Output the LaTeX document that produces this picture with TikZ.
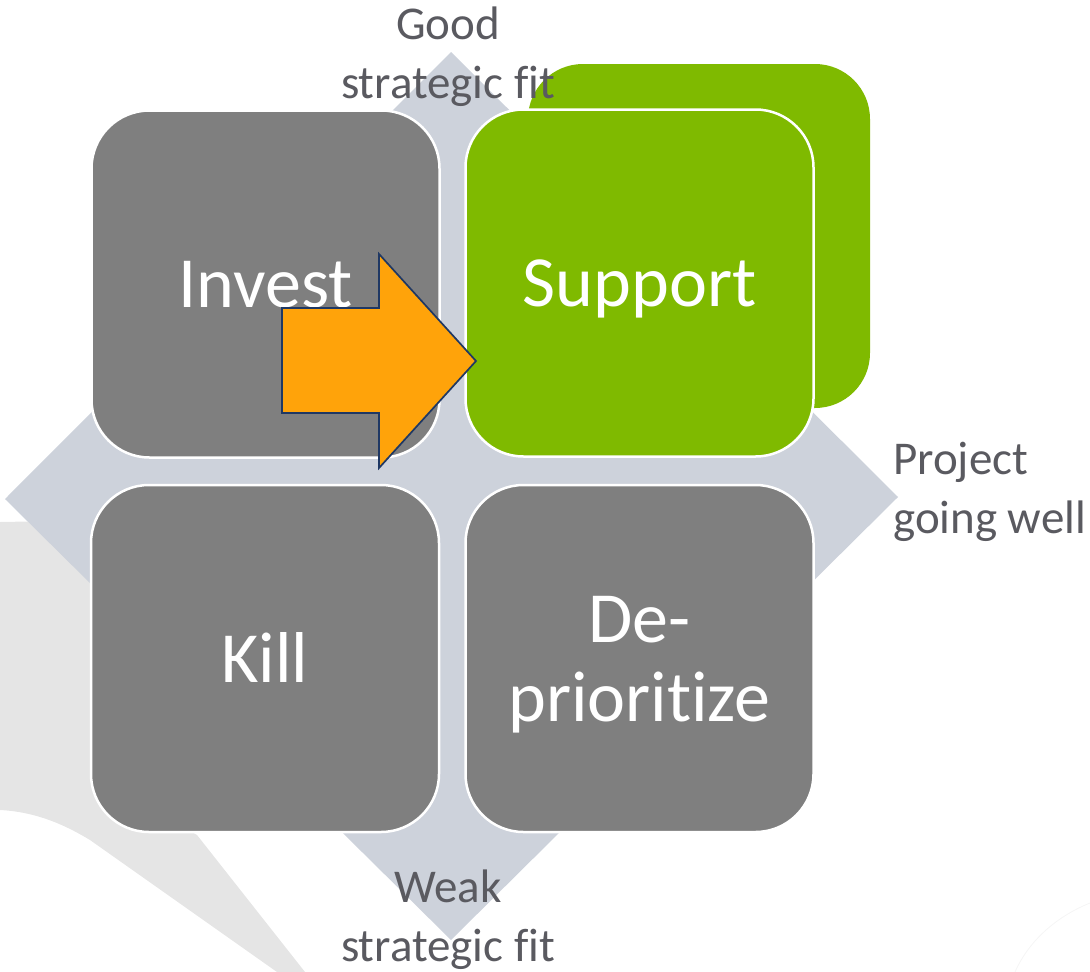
\documentclass[tikz,border=0pt]{standalone}
\usepackage{fontspec}
\setmainfont[Ligatures={NoCommon}]{Carlito}
\definecolor{diamondc}{HTML}{CDD2DB}
\definecolor{boxgray}{HTML}{7F7F7F}
\definecolor{leaf}{HTML}{7FBA00}
\definecolor{orangec}{HTML}{FFA30A}
\definecolor{navyc}{HTML}{1F3864}
\definecolor{labelc}{HTML}{5A5A60}
\definecolor{wmark}{HTML}{E5E5E5}
\begin{document}
\begin{tikzpicture}[x=1pt,y=-1pt,
  quad/.style={rounded corners=58pt, draw=white, line width=2.5pt, inner sep=0pt,
    minimum width=348pt, minimum height=347pt, text=white, align=center,
    font=\fontsize{72}{79}\selectfont},
  oneline/.style={text height=47pt, text depth=0pt},
  axislabel/.style={text=labelc, inner sep=0pt, font=\fontsize{47}{59}\selectfont}]
\useasboundingbox (0,0) rectangle (1090,972);
% faint background shapes
\fill[wmark] (0,522) -- (120,520) -- (120,790) -- (197,835) -- (305,972) -- (277,972)
  -- (90,840) .. controls (70,828) and (40,812) .. (0,810) -- cycle;
\draw[white!96!black, line width=0.8pt] (1015,972) .. controls (1030,938) and (1060,915) .. (1090,903);
% diamond
\fill[diamondc] (451,52) -- (898,497) -- (451,940) -- (5,499) -- cycle;
% quadrants
\node[quad, fill=leaf, draw=none, minimum width=342pt, minimum height=344pt, rounded corners=55pt] (back) at (699,236) {};
\node[quad, oneline, fill=boxgray] (invest) at (265.5,284) {Invest};
\node[quad, oneline, fill=boxgray] (kill) at (265,658.5) {Kill};
\node[quad, fill=boxgray] (depri) at (639.5,658.5) {};
\node[white, align=center, inner sep=0pt, font=\fontsize{72}{79}\selectfont] (depritext) at (639.5,665) {De-\\prioritize};
\node[quad, oneline, fill=leaf] (support) at (639.5,283) {Support};
% arrow
\draw[fill=orangec, draw=navyc, line width=1.7pt, line join=miter]
  (282,308) -- (379,308) -- (379,254) -- (476,361) -- (379,468) -- (379,413) -- (282,413) -- cycle;
% axis labels
\node[axislabel, align=center] (good) at (448,57) {Good\\strategic fit};
\node[axislabel, align=left, anchor=west] (proj) at (893,492) {Project\\going well};
\node[axislabel, align=center] (weak) at (448,920) {Weak\\strategic fit};
\end{tikzpicture}
\end{document}
